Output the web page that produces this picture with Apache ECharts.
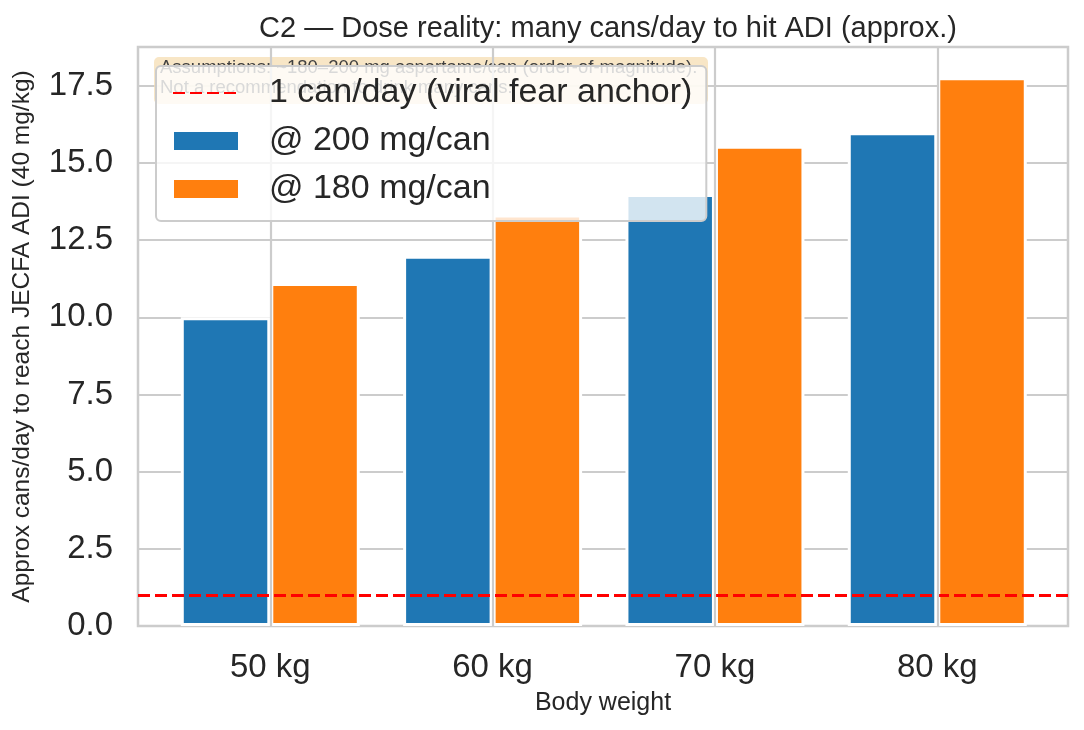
<!DOCTYPE html>
<html>
<head>
<meta charset="utf-8">
<script src="https://cdn.jsdelivr.net/npm/echarts@6/dist/echarts.min.js"></script>
<style>
  html, body { margin: 0; padding: 0; background: #fff; }
  #chart { width: 1084px; height: 730px; }
</style>
</head>
<body>
<div id="chart"></div>
<script>
// body weights on the x axis
var categories = ['50 kg', '60 kg', '70 kg', '80 kg'];
// cans/day to reach 40 mg/kg ADI
var at200 = [10.0, 12.0, 14.0, 16.0];
var at180 = [11.11, 13.33, 15.56, 17.78];
var anchorValue = 1;

var seriesNames = ['1 can/day (viral fear anchor)', '@ 200 mg/can', '@ 180 mg/can'];
var note = 'Assumptions: ~180\u2013200 mg aspartame/can (order-of-magnitude).\nNot a recommendation to drink many cans.';

var font = '"Liberation Sans", Arial, sans-serif';
var textColor = '#262626';
var gridColor = '#cccccc';

function toPoints(values) {
  return values.map(function (v, i) { return [i, v]; });
}

var chart = echarts.init(document.getElementById('chart'));

chart.setOption({
  animation: false,
  textStyle: { fontFamily: font },
  color: ['#ff0000', '#1f77b4', '#ff7f0e'],
  title: {
    text: 'C2 \u2014 Dose reality: many cans/day to hit ADI (approx.)',
    left: 603,
    textAlign: 'center',
    top: 9,
    textStyle: { fontSize: 29, fontWeight: 'normal', color: textColor, fontFamily: font }
  },
  grid: {
    left: 138,
    right: 16,
    top: 47,
    bottom: 104,
    show: true,
    borderColor: gridColor,
    borderWidth: 2.5,
    backgroundColor: 'transparent'
  },
  legend: {
    orient: 'vertical',
    left: 156,
    top: 66,
    z: 6,
    selectedMode: false,
    padding: [10, 14, 15, 16],
    itemWidth: 66,
    itemHeight: 20,
    itemGap: 14,
    backgroundColor: 'rgba(255,255,255,0.8)',
    borderColor: gridColor,
    borderWidth: 2,
    borderRadius: 5,
    textStyle: { fontSize: 34, color: textColor, fontFamily: font, padding: [0, 0, 0, 25] },
    data: [
      { name: seriesNames[0], itemStyle: { opacity: 0 } },
      { name: seriesNames[1], icon: 'rect' },
      { name: seriesNames[2], icon: 'rect' }
    ]
  },
  xAxis: {
    type: 'value',
    min: -0.595,
    max: 3.588,
    axisLine: { show: false },
    axisTick: { show: false },
    splitLine: { show: false },
    axisLabel: {
      customValues: [0, 1, 2, 3],
      formatter: function (v) { return categories[Math.round(v)]; },
      fontSize: 33,
      color: textColor,
      margin: 25
    },
    name: 'Body weight',
    nameLocation: 'middle',
    nameGap: 65,
    nameTextStyle: { fontSize: 25, color: textColor }
  },
  yAxis: {
    type: 'value',
    min: 0,
    max: 18.76,
    interval: 2.5,
    axisLine: { show: false },
    axisTick: { show: false },
    splitLine: { lineStyle: { color: gridColor, width: 2.2 } },
    axisLabel: {
      showMaxLabel: false,
      formatter: function (v) { return v.toFixed(1); },
      fontSize: 33,
      color: textColor,
      margin: 25
    },
    name: 'Approx cans/day to reach JECFA ADI (40 mg/kg)',
    nameLocation: 'middle',
    nameGap: 103,
    nameTextStyle: { fontSize: 24.5, color: textColor }
  },
  graphic: [
    {
      type: 'rect',
      z: 4,
      shape: { x: 154, y: 57, width: 554, height: 47, r: 5 },
      style: { fill: 'rgba(245,222,179,0.75)' }
    },
    {
      type: 'text',
      z: 5,
      x: 160,
      y: 58,
      style: {
        text: note,
        fontSize: 18.5,
        lineHeight: 20,
        fontFamily: font,
        fill: '#404040'
      }
    }
  ],
  series: [
    {
      name: seriesNames[0],
      type: 'line',
      data: [],
      symbol: 'none',
      z: 3,
      lineStyle: { color: '#ff0000', type: [12, 5], width: 3 },
      markLine: {
        silent: true,
        symbol: 'none',
        label: { show: false },
        lineStyle: { color: '#ff0000', type: [12, 5], width: 3 },
        data: [{ yAxis: anchorValue }]
      }
    },
    {
      name: seriesNames[1],
      type: 'bar',
      z: 2,
      barWidth: 89.5,
      barGap: '0%',
      itemStyle: { color: '#1f77b4', borderColor: '#fff', borderWidth: 3 },
      data: toPoints(at200)
    },
    {
      name: seriesNames[2],
      type: 'bar',
      z: 2,
      barWidth: 89.5,
      barGap: '0%',
      itemStyle: { color: '#ff7f0e', borderColor: '#fff', borderWidth: 3 },
      data: toPoints(at180)
    },
    {
      // vertical grid lines at the category centres
      type: 'line',
      data: [],
      z: 1,
      silent: true,
      markLine: {
        silent: true,
        symbol: 'none',
        label: { show: false },
        lineStyle: { color: gridColor, type: 'solid', width: 2.2 },
        data: categories.map(function (c, i) { return { xAxis: i }; })
      }
    }
  ]
});
</script>
</body>
</html>
